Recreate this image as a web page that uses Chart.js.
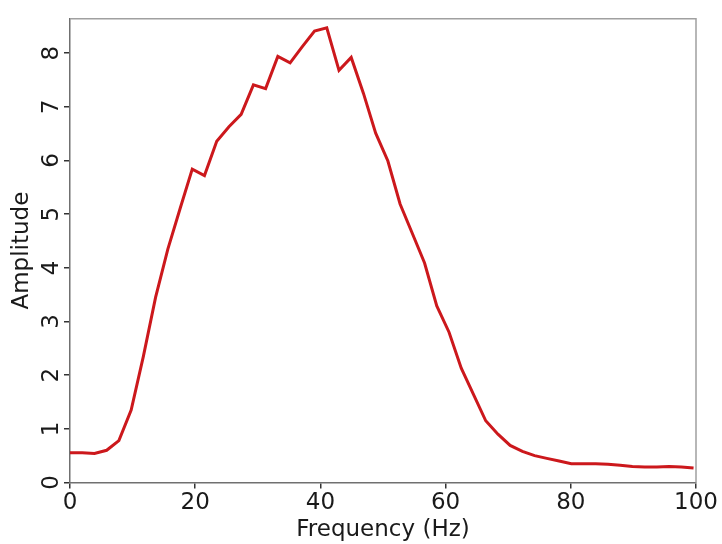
<!DOCTYPE html>
<html>
<head>
<meta charset="utf-8">
<script src="https://cdn.jsdelivr.net/npm/chart.js@4"></script>
<style>
  html, body { margin: 0; padding: 0; background: #fff; }
  #wrap { width: 722px; height: 544px; }
</style>
</head>
<body>
<div id="wrap"><canvas id="spectrum"></canvas></div>
<script>
// Frequency bins (Hz) and amplitude
const freqs = [0, 1.95, 3.91, 5.86, 7.81, 9.77, 11.72, 13.67, 15.63, 17.58,
  19.53, 21.48, 23.44, 25.39, 27.34, 29.3, 31.25, 33.2, 35.16, 37.11,
  39.06, 41.02, 42.97, 44.92, 46.88, 48.83, 50.78, 52.73, 54.69, 56.64,
  58.59, 60.55, 62.5, 64.45, 66.41, 68.36, 70.31, 72.27, 74.22, 76.17,
  78.13, 80.08, 82.03, 83.98, 85.94, 87.89, 89.84, 91.8, 93.75, 95.7,
  97.66, 99.61];
const amplitude = [0.555, 0.555, 0.54, 0.6, 0.78, 1.35, 2.35, 3.45, 4.35, 5.1,
  5.84, 5.72, 6.36, 6.63, 6.86, 7.41, 7.34, 7.94, 7.82, 8.12,
  8.41, 8.47, 7.68, 7.92, 7.25, 6.51, 5.99, 5.19, 4.64, 4.09,
  3.29, 2.8, 2.13, 1.64, 1.15, 0.9, 0.69, 0.58, 0.5, 0.45,
  0.4, 0.35, 0.35, 0.35, 0.34, 0.32, 0.3, 0.29, 0.29, 0.3,
  0.29, 0.27];
const xTicks = [0, 20, 40, 60, 80, 100];
const yTicks = [0, 1, 2, 3, 4, 5, 6, 7, 8];

const axisFont = { family: 'DejaVu Sans', size: 23 };
const inkColor = '#1a1a1a';

// light frame on top and right of the plot area
const frame = {
  id: 'frame',
  afterDraw(c) {
    const a = c.chartArea;
    const ctx = c.ctx;
    ctx.save();
    ctx.strokeStyle = '#a0a0a0';
    ctx.lineWidth = 1.5;
    ctx.beginPath();
    ctx.moveTo(a.left, a.top);
    ctx.lineTo(a.right, a.top);
    ctx.lineTo(a.right, a.bottom);
    ctx.stroke();
    ctx.restore();
  }
};

const points = freqs.map((f, i) => ({ x: f, y: amplitude[i] }));

new Chart(document.getElementById('spectrum'), {
  type: 'line',
  data: {
    datasets: [{
      data: points,
      borderColor: '#cc181c',
      borderWidth: 3,
      pointRadius: 0,
      tension: 0,
      fill: false
    }]
  },
  options: {
    responsive: true,
    maintainAspectRatio: false,
    animation: false,
    layout: { padding: { top: 13, right: 26, left: 8, bottom: 0 } },
    plugins: { legend: { display: false }, tooltip: { enabled: false } },
    scales: {
      x: {
        type: 'linear',
        min: 0,
        max: 100,
        afterBuildTicks: s => { s.ticks = xTicks.map(v => ({ value: v })); },
        afterFit: s => { s.height = 61.5; },
        ticks: { font: axisFont, color: inkColor, padding: 1, maxRotation: 0 },
        grid: { display: true, drawOnChartArea: false, drawTicks: true, tickLength: 6, color: '#333', lineWidth: 1.5 },
        border: { display: true, color: '#707070', width: 1.5 },
        title: { display: true, text: 'Frequency (Hz)', font: axisFont, color: inkColor, padding: { top: 0, bottom: 0 } }
      },
      y: {
        type: 'linear',
        min: 0,
        max: 8.64,
        afterBuildTicks: s => { s.ticks = yTicks.map(v => ({ value: v })); },
        afterFit: s => { s.width = 62; },
        ticks: { font: axisFont, color: inkColor, padding: 5, minRotation: 90, maxRotation: 90, crossAlign: 'center' },
        grid: { display: true, drawOnChartArea: false, drawTicks: true, tickLength: 6, color: '#333', lineWidth: 1.5 },
        border: { display: true, color: '#707070', width: 1.5 },
        title: { display: true, text: 'Amplitude', font: axisFont, color: inkColor, padding: { top: 0, bottom: 0 } }
      }
    }
  },
  plugins: [frame]
});
</script>
</body>
</html>
